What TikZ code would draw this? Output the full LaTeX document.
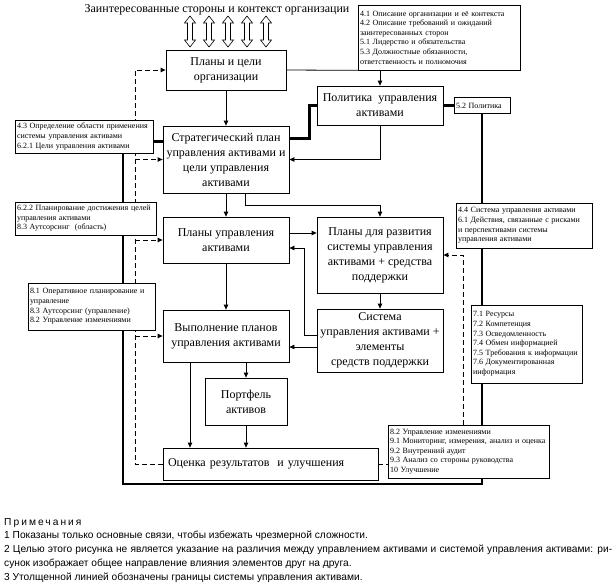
\documentclass[tikz,border=0pt]{standalone}
\usepackage{fontspec}
\setmainfont{Liberation Serif}
\newfontfamily\notefont{Liberation Sans}
\usetikzlibrary{arrows.meta,calc,backgrounds}
\begin{document}
\begin{tikzpicture}[x=1pt,y=-1pt,
  mbox/.style={draw,fill=white,line width=0.8pt,align=center,inner sep=1pt,font=\fontsize{12}{15}\selectfont},
  sbox/.style={draw,fill=white,line width=0.7pt,align=left,inner xsep=2pt,inner ysep=1pt,font=\fontsize{8}{9.6}\selectfont},
  conn/.style={line width=0.8pt,-{Triangle[length=5pt,width=4.5pt]}},
  plainline/.style={line width=0.8pt},
  dconn/.style={line width=0.9pt,dash pattern=on 5pt off 3pt,-{Triangle[length=5pt,width=4.5pt]}},
  dline/.style={line width=0.9pt,dash pattern=on 5pt off 3pt},
  bound/.style={line width=2.4pt},
  dblarrow/.style={draw,line width=0.6pt,fill=white},
  notestyle/.style={anchor=base west,inner sep=0pt,font=\notefont\fontsize{10.2}{12}\selectfont}]

\useasboundingbox (0,0) rectangle (616,584);

% title and interface arrows
\node[font=\fontsize{12}{14}\selectfont,inner sep=0pt] (title) at (217,9.5) {Заинтересованные стороны и контекст организации};
\foreach \x in {190,209,228,247,266}
  \draw[dblarrow] (\x,16) -- ++(5.5,7) -- ++(-3,0) -- ++(0,17) -- ++(3,0) -- ++(-5.5,7)
     -- ++(-5.5,-7) -- ++(3,0) -- ++(0,-17) -- ++(-3,0) -- cycle;

% main boxes
\node[mbox,minimum width=120pt,minimum height=40pt] (A) at (226,70) {Планы и цели\\организации};
\node[mbox,minimum width=126pt,minimum height=39pt] (C) at (380,105.5) {Политика\ \ управления\\активами};
\node[mbox,minimum width=126pt,minimum height=67pt] (E) at (226,159.5) {Стратегический план\\управления активами и\\цели управления\\активами};
\node[mbox,minimum width=126pt,minimum height=46pt] (F) at (226,240) {Планы управления\\активами};
\node[mbox,minimum width=126pt,minimum height=76pt] (G) at (380,255) {Планы для развития\\системы управления\\активами + средства\\поддержки};
\node[mbox,minimum width=126pt,minimum height=63pt] (H) at (380,340.5) {Система\\управления активами +\\элементы\\средств поддержки};
\node[mbox,minimum width=126pt,minimum height=52pt] (I) at (226,336) {Выполнение планов\\управления активами};
\node[mbox,minimum width=82pt,minimum height=47pt] (J) at (246,401.5) {Портфель\\активов};
\node[mbox,align=left,text width=205pt,inner xsep=5pt,minimum height=32pt] (K) at (270.5,464) {Оценка результатов\ \ и улучшения};

% clause boxes
\node[sbox,text width=158pt,minimum height=65pt] (B) at (439,37.5) {4.1 Описание организации и её контекста\\4.2 Описание требований и ожиданий\\заинтересованных сторон\\5.1 Лидерство и обязательства\\5.3 Должностные обязанности,\\ответственность и полномочия};
\node[sbox,text width=52pt,minimum height=16pt] (D) at (482,105.5) {5.2 Политика};
\node[sbox,text width=134pt,minimum height=33pt] (M) at (84,136.5) {4.3 Определение области применения\\системы управления активами\\6.2.1 Цели управления активами};
\node[sbox,text width=137pt,minimum height=33pt] (N) at (85.5,218.5) {6.2.2 Планирование достижения целей\\управления активами\\8.3 Аутсорсинг\ \ (область)};
\node[sbox,text width=123pt,minimum height=47pt] (O) at (91.5,306.5) {8.1 Оперативное планирование и\\управление\\8.3 Аутсорсинг (управление)\\8.2 Управление изменениями};
\node[sbox,text width=132pt,minimum height=45pt] (P) at (524,225.5) {4.4 Система управления активами\\6.1 Действия, связанные с рисками\\и перспективами системы\\управления активами};
\node[sbox,text width=107pt,minimum height=78pt] (Q) at (526.5,344) {7.1 Ресурсы\\7.2 Компетенция\\7.3 Осведомленность\\7.4 Обмен информацией\\7.5 Требования к информации\\7.6 Документированная\\информация};
\node[sbox,text width=157pt,minimum height=53pt] (L) at (468.5,451.5) {8.2 Управление изменениями\\9.1 Мониторинг, измерения, анализ и оценка\\9.2 Внутренний аудит\\9.3 Анализ со стороны руководства\\10 Улучшение};

% helper coordinates
\coordinate (e1) at ($(E.north east)+(0,13)$);
\coordinate (e2) at ($(E.north west)+(0,16)$);
\coordinate (f1) at ($(F.east)+(0,-7)$);
\coordinate (h2) at ($(H.west)+(0,6.5)$);
\coordinate (i1) at ($(I.south)+(-36,0)$);
\coordinate (lx) at (135,464);
\coordinate (rx) at (463,255);
\coordinate (bl) at (123,484);
\coordinate (br) at (482,484);

\begin{scope}[on background layer]
% solid connectors
\draw[plainline] (A.east) -- (B.south west);
\draw[conn] (B.south -| C.north) -- (C.north);
\draw[conn] (A.south) -- (E.north);
\draw[conn] (C.south) |- (E.east);
\draw[conn] (E.south) -- (F.north);
\draw[conn] ($(E.south)+(19,0)$) -- ++(0,12) -| (G.north);
\draw[conn] (f1) -- (f1 -| G.west);
\draw[conn] ($(H.west)+(0,-5.5)$) -- ++(-12,0) |- ($(F.east)+(0,8)$);
\draw[conn] (G.south) -- (H.north);
\draw[conn] (h2) -- (h2 -| I.east);
\draw[conn] (F.south) -- (I.north);
\draw[conn] (J.north |- I.south) -- (J.north);
\draw[conn] (i1) -- (i1 |- K.north);
\draw[conn] (J.south) -- (J.south |- K.north);

% dashed connectors
\draw[dline] (K.east) -- (K.east -| L.west);
\draw[dconn] (K.west) -- (lx) |- (A.west);
\draw[dconn] (lx |- E.west) -- (E.west);
\draw[dconn] (lx |- F.west) -- (F.west);
\draw[dconn] (lx |- I.west) -- (I.west);
\draw[dconn] (L.north -| rx) -- (rx) -- (G.east);

% boundary of the asset management system
\draw[bound] (C.east) -- (D.west);
\draw[bound] (e1) -| ($(C.west)+(-7,0)$) -- (C.west);
\draw[bound] (e2) -- (e2 -| M.east);
\draw[bound] (M.south -| bl) -- (N.north -| bl);
\draw[bound] (N.south -| bl) -- (O.north -| bl);
\draw[bound] (O.south -| bl) -- (bl) -- (br) -- (L.south -| br);
\draw[bound] (D.south) -- (P.north -| D.south);
\draw[bound] (P.south -| D.south) -- (Q.north -| D.south);
\draw[bound] (Q.south -| D.south) -- (L.north -| D.south);
\end{scope}

% notes
\node[notestyle] (n0) at (4,525.5) {\addfontfeature{LetterSpace=20}Примечания};
\node[notestyle] (n1) at (4,538) {1 Показаны только основные связи, чтобы избежать чрезмерной сложности.};
\node[notestyle] (n2) at (4,552.5) {\makebox[608pt][s]{2 Целью этого рисунка не является указание на различия между управлением активами и системой управления активами: ри-}};
\node[notestyle] (n3) at (4,566.5) {сунок изображает общее направление влияния элементов друг на друга.};
\node[notestyle] (n4) at (4,580) {3 Утолщенной линией обозначены границы системы управления активами.};
\end{tikzpicture}
\end{document}
